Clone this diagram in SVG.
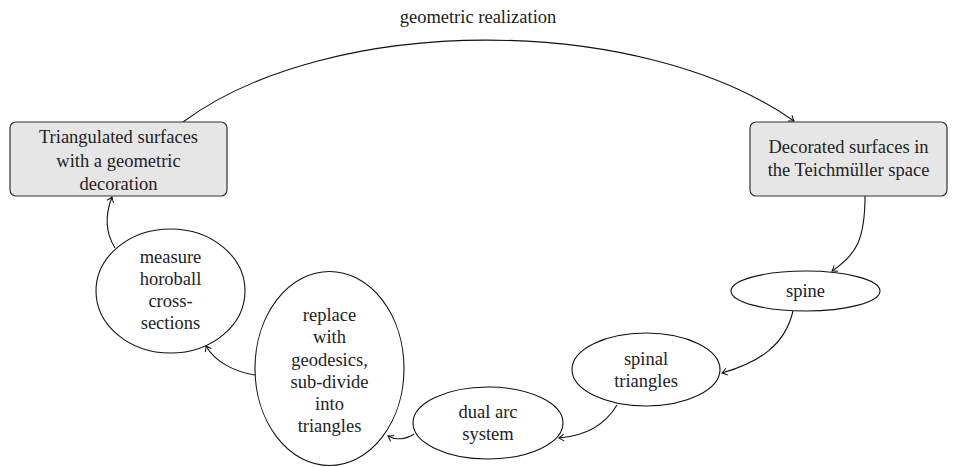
<svg xmlns="http://www.w3.org/2000/svg" width="956" height="467" viewBox="0 0 956 467">
<defs>
<style>
.box{fill:#e6e6e6;stroke:#333;stroke-width:1.2}
.ell{fill:#fff;stroke:#111;stroke-width:1.1}
.edge{fill:none;stroke:#111;stroke-width:1.1;marker-end:url(#ah)}
</style>
<marker id="ah" viewBox="-6 -5 8 10" markerWidth="8" markerHeight="10" markerUnits="userSpaceOnUse" refX="0" refY="0" orient="auto">
<path d="M-5,-3.5 Q-1.5,-0.8 0,0 Q-1.5,0.8 -5,3.5" fill="none" stroke="#111" stroke-width="1"/>
</marker>
</defs>
<rect width="956" height="467" fill="#fff"/>
<g font-family="Liberation Serif, serif" font-size="18.5" fill="#222" text-anchor="middle">
<g id="connectors">
<path class="edge" d="M183,122 C330,13 640,13 794,121"/>
<path class="edge" d="M865,196 C865,240 856,255 832,271"/>
<path class="edge" d="M793,311 C785,345 760,362 722,373"/>
<path class="edge" d="M617,405 C605,425 585,436 559,438"/>
<path class="edge" d="M414,434 C405,440 395,440 388,436"/>
<path class="edge" d="M255,375 C235,372 215,362 206,346"/>
<path class="edge" d="M115,248 C105,232 105,215 112,197"/>
<text x="478" y="23">geometric realization</text>
</g>
<g id="triangulated">
<rect class="box" x="10" y="122" width="217" height="74" rx="6"/>
<text x="118.5" y="143">Triangulated surfaces</text>
<text x="118.5" y="166.5">with a geometric</text>
<text x="118.5" y="190">decoration</text>
</g>
<g id="decorated">
<rect class="box" x="750" y="122" width="197" height="74" rx="6"/>
<text x="848.5" y="153">Decorated surfaces in</text>
<text x="848.5" y="176">the Teichm&#252;ller space</text>
</g>
<g id="spine">
<ellipse class="ell" cx="805.5" cy="291" rx="74.5" ry="20"/>
<text x="805.5" y="297">spine</text>
</g>
<g id="spinal">
<ellipse class="ell" cx="646" cy="369.5" rx="74" ry="36.5"/>
<text x="646" y="365">spinal</text>
<text x="646" y="387">triangles</text>
</g>
<g id="dual">
<ellipse class="ell" cx="488" cy="423" rx="75" ry="36"/>
<text x="488" y="418">dual arc</text>
<text x="488" y="440">system</text>
</g>
<g id="replace">
<ellipse class="ell" cx="329.5" cy="368.5" rx="74.5" ry="97"/>
<text x="329.5" y="321">replace</text>
<text x="329.5" y="343">with</text>
<text x="329.5" y="365.5">geodesics,</text>
<text x="329.5" y="387.5">sub-divide</text>
<text x="329.5" y="409.5">into</text>
<text x="329.5" y="432">triangles</text>
</g>
<g id="measure">
<ellipse class="ell" cx="170.5" cy="291" rx="74.5" ry="62"/>
<text x="170.5" y="263">measure</text>
<text x="170.5" y="285">horoball</text>
<text x="170.5" y="307">cross-</text>
<text x="170.5" y="329">sections</text>
</g>
</g>
</svg>
